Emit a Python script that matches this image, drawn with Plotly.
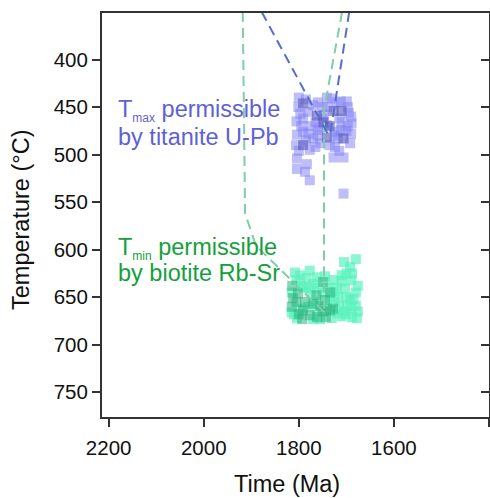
import plotly.graph_objects as go

# ---------------- data ----------------
# Titanite U-Pb (Tmax) squares: time (Ma), temperature (°C)
blue_light_time = [1741, 1699, 1801, 1770, 1689, 1791, 1741, 1710, 1755, 1720, 1791, 1804,
                   1692, 1777, 1724, 1727, 1706, 1804, 1804, 1787, 1777, 1706, 1780, 1750,
                   1720, 1695, 1760, 1775, 1700, 1785, 1797, 1747, 1715, 1770, 1735, 1690,
                   1800, 1783, 1800, 1785, 1760, 1730, 1712, 1697, 1690, 1805, 1780, 1765,
                   1750, 1725, 1712, 1697, 1755, 1715, 1765, 1718, 1806, 1795, 1740, 1760]
blue_light_temp = [440, 444, 450, 448, 467, 462, 469, 466, 471, 476, 476, 479,
                   488, 495, 492, 503, 503, 504, 515, 518, 527, 541, 455, 450,
                   445, 456, 480, 470, 475, 485, 457, 458, 462, 483, 490, 478,
                   496, 510, 440, 442, 445, 441, 444, 450, 460, 465, 478, 466,
                   462, 480, 474, 470, 488, 496, 492, 483, 490, 470, 450, 474]
blue_dark_time = [1791, 1762, 1727, 1710, 1741, 1706, 1791, 1735, 1748]
blue_dark_temp = [446, 459, 454, 454, 482, 483, 490, 470, 466]

# Biotite Rb-Sr (Tmin) squares
green_light_time = [1680, 1692, 1710, 1808, 1777, 1762, 1804, 1717, 1703, 1680, 1680, 1688,
                    1710, 1731, 1784, 1797, 1710, 1699, 1690, 1720, 1700, 1780, 1770, 1815,
                    1692, 1725, 1750, 1795, 1676, 1705, 1805, 1790, 1775, 1765, 1740, 1715,
                    1700, 1685, 1718, 1760, 1780, 1810, 1770, 1755, 1740, 1728, 1700, 1688,
                    1745, 1705, 1676, 1725, 1690, 1795, 1815, 1735, 1760, 1678]
green_light_temp = [610, 618, 627, 624, 622, 629, 672, 650, 641, 645, 659, 671,
                    670, 672, 630, 627, 633, 659, 632, 640, 650, 640, 636, 645,
                    652, 655, 645, 638, 665, 665, 632, 640, 645, 655, 660, 660,
                    668, 652, 667, 640, 660, 668, 673, 673, 640, 632, 625, 625,
                    628, 613, 638, 644, 662, 662, 666, 650, 662, 672]
green_dark_time = [1814, 1802, 1815, 1791, 1763, 1755, 1734, 1728, 1762, 1787, 1745, 1749,
                   1734, 1812, 1743, 1777, 1800, 1770, 1793, 1750, 1805]
green_dark_temp = [638, 646, 660, 664, 648, 659, 645, 662, 671, 655, 653, 634,
                   664, 651, 671, 669, 668, 657, 673, 665, 655]

# Dashed paths
green_path1_time = [1918, 1913, 1890, 1746]
green_path1_temp = [350, 562, 596, 666]
green_path2_time = [1709, 1747, 1747]
green_path2_temp = [350, 453, 666]
blue_path1_time = [1878, 1735]
blue_path1_temp = [350, 482]
blue_path2_time = [1694, 1735]
blue_path2_temp = [350, 482]

x_ticks = [2200, 2000, 1800, 1600, 1400]
x_ticklabels = ["2200", "2000", "1800", "1600", ""]
y_ticks = [400, 450, 500, 550, 600, 650, 700, 750]

# ---------------- figure ----------------
FONT = "Liberation Sans, Arial, sans-serif"
AX = "#333333"
W, H = 490, 498
ML, MR, MT, MB = 102, 1, 13, 81
PW, PH = W - ML - MR, H - MT - MB


def px(x):
    return (x - ML) / PW


def py(y):
    return (H - MB - y) / PH


fig = go.Figure()

sq = dict(symbol="square", size=10, line=dict(width=0))
fig.add_trace(go.Scatter(x=blue_light_time, y=blue_light_temp, mode="markers",
                         marker=dict(color="rgba(125,125,245,0.5)", **sq), showlegend=False))
fig.add_trace(go.Scatter(x=blue_dark_time, y=blue_dark_temp, mode="markers",
                         marker=dict(color="rgba(85,85,190,0.6)", **sq), showlegend=False))
fig.add_trace(go.Scatter(x=green_light_time, y=green_light_temp, mode="markers",
                         marker=dict(color="rgba(90,242,190,0.7)", **sq), showlegend=False))
fig.add_trace(go.Scatter(x=green_dark_time, y=green_dark_temp, mode="markers",
                         marker=dict(color="rgba(40,180,125,0.55)", **sq), showlegend=False))

gl = dict(color="rgb(130,205,165)", width=2, dash="10px,6px")
bl = dict(color="rgb(85,110,205)", width=2, dash="10px,6px")
for xs, ys, ln in [(green_path1_time, green_path1_temp, gl),
                   (green_path2_time, green_path2_temp, gl),
                   (blue_path1_time, blue_path1_temp, bl),
                   (blue_path2_time, blue_path2_temp, bl)]:
    fig.add_trace(go.Scatter(x=xs, y=ys, mode="lines", line=ln, showlegend=False,
                             hoverinfo="skip"))

# invisible trace on the right axis so it is drawn
fig.add_trace(go.Scatter(x=[1400], y=[750], yaxis="y2", mode="markers",
                         marker=dict(opacity=0), showlegend=False, hoverinfo="skip"))

yr = [776, 351]
fig.update_layout(
    width=W, height=H,
    margin=dict(l=ML, r=MR, t=MT, b=MB, pad=0),
    paper_bgcolor="white", plot_bgcolor="white",
    font=dict(family=FONT, color="#111111"),
    xaxis=dict(range=[2214, 1400], tickvals=x_ticks, ticktext=x_ticklabels,
               ticks="outside", ticklen=8, tickwidth=2, tickcolor=AX,
               showline=True, linewidth=2, linecolor=AX, mirror=True,
               showgrid=False, zeroline=False, tickfont=dict(size=20.5),
               ticklabelstandoff=3),
    yaxis=dict(range=yr, tickvals=y_ticks, ticks="outside", ticklen=8, tickwidth=2,
               tickcolor=AX, showline=True, linewidth=2, linecolor=AX,
               showgrid=False, zeroline=False, tickfont=dict(size=20.5)),
    yaxis2=dict(range=yr, tickvals=y_ticks, overlaying="y", side="right",
                ticks="inside", ticklen=8, tickwidth=2, tickcolor=AX,
                showticklabels=False, showline=True, linewidth=2, linecolor=AX,
                showgrid=False, zeroline=False),
)

ann = []
BLUE_T = "rgb(95,95,215)"
GREEN_T = "rgb(20,160,60)"
for txt, y, c in [("T<sub><span style=\"font-size:12px\">max</span></sub> permissible", 110, BLUE_T),
                  ("by titanite U-Pb", 137, BLUE_T),
                  ("T<sub><span style=\"font-size:12px\">min</span></sub> permissible", 248, GREEN_T),
                  ("by biotite Rb-Sr", 273, GREEN_T)]:
    ann.append(dict(text=txt, x=px(116), y=py(y), xref="paper", yref="paper",
                    xanchor="left", yanchor="middle", showarrow=False,
                    font=dict(size=23.5, color=c, family=FONT)))
ann.append(dict(text="Time (Ma)", x=px(287), y=py(484), xref="paper", yref="paper",
                xanchor="center", yanchor="middle", showarrow=False,
                font=dict(size=23.5, color="#111111", family=FONT)))
ann.append(dict(text="Temperature (°C)", x=px(21), y=py(220), xref="paper", yref="paper",
                xanchor="center", yanchor="middle", showarrow=False, textangle=-90,
                font=dict(size=23.5, color="#111111", family=FONT)))
fig.update_layout(annotations=ann)

fig.write_html("out.html")
